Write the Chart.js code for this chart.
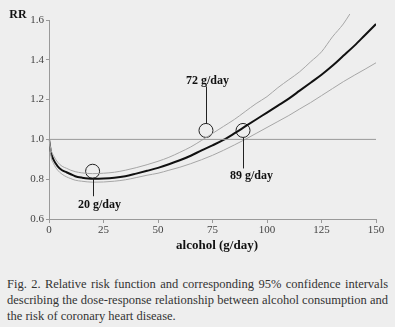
<!DOCTYPE html>
<html>
<head>
<meta charset="utf-8">
<script src="https://cdn.jsdelivr.net/npm/chart.js@4.4.1/dist/chart.umd.min.js"></script>
<style>
    body { margin: 0; background: #eeeeee; width: 395px; height: 327px; overflow: hidden;
           font-family: "Liberation Serif", "Times New Roman", serif; }
    #wrap { position: absolute; left: 0; top: 0; width: 395px; height: 260px; }
    #caption { position: absolute; left: 7px; top: 276px; width: 381px; font-size: 12.5px;
               line-height: 16px; color: #333; }
    #caption div { white-space: nowrap; text-align: justify; text-align-last: justify; }
    #caption div.last { text-align-last: left; }
</style>
</head>
<body>
<div id="wrap"><canvas id="chart" width="395" height="260"></canvas></div>
<div id="caption">
    <div>Fig. 2. Relative risk function and corresponding 95% confidence intervals</div>
    <div>describing the dose-response relationship between alcohol consumption and</div>
    <div class="last">the risk of coronary heart disease.</div>
</div>
<script>
// alcohol dose (g/day)
const doses = [0, 1, 2, 4, 6, 8, 10, 12, 15, 20, 25, 30, 35, 40, 45, 50, 55, 60, 65, 70,
               75, 80, 85, 90, 95, 100, 105, 110, 115, 120, 125, 130, 135, 140, 145, 150];

// relative risk
const rr = [1.00, 0.93, 0.90, 0.865, 0.845, 0.835, 0.825, 0.815, 0.808, 0.802, 0.803, 0.807, 0.815, 0.828, 0.842, 0.857, 0.875, 0.895, 0.918, 0.945,
            0.97, 0.997, 1.03, 1.065, 1.10, 1.135, 1.17, 1.205, 1.245, 1.285, 1.325, 1.37, 1.42, 1.47, 1.525, 1.58];

// 95% confidence limits
const upperDoses = [0, 1, 2, 4, 6, 8, 10, 12, 15, 20, 25, 30, 35, 40, 45, 50, 55, 60, 65, 70,
                    75, 80, 85, 90, 95, 100, 105, 110, 115, 120, 125, 130, 135, 138];
const upper = [1.00, 0.945, 0.92, 0.885, 0.865, 0.855, 0.845, 0.838, 0.832, 0.828, 0.83, 0.835, 0.845, 0.858, 0.873, 0.89, 0.91, 0.935, 0.962, 0.995,
               1.03, 1.065, 1.10, 1.14, 1.18, 1.215, 1.26, 1.30, 1.34, 1.39, 1.44, 1.515, 1.58, 1.63];
const lower = [1.00, 0.91, 0.88, 0.845, 0.825, 0.812, 0.803, 0.795, 0.79, 0.785, 0.786, 0.79, 0.797, 0.808, 0.82, 0.83, 0.845, 0.86, 0.878, 0.898,
               0.92, 0.945, 0.972, 1.00, 1.03, 1.06, 1.09, 1.12, 1.153, 1.185, 1.22, 1.255, 1.29, 1.322, 1.353, 1.385];

// marked doses: lowest risk, end of protection, start of harm
const markDoses = [20, 72, 89];
const markRR = [0.84, 1.045, 1.045];
const markLabels = ['20 g/day', '72 g/day', '89 g/day'];

const refRR = 1.0;
const xTicks = [0, 25, 50, 75, 100, 125, 150];
const yTicks = [0.6, 0.8, 1.0, 1.2, 1.4, 1.6];

const serif = '"Liberation Serif", "Times New Roman", serif';

const pts = (xs, ys) => xs.map((x, i) => ({ x: x, y: ys[i] }));

// leader line and label placement for each marked dose
const callouts = [
    { dir: 1, lead: 18, dx: 6, dy: 34 },
    { dir: -1, lead: 37, dx: 1, dy: -50 },
    { dir: 1, lead: 31, dx: 8, dy: 45 }
];
const markRadius = 7;

const annotations = {
    id: 'annotations',
    afterDatasetsDraw(chart) {
        const ctx = chart.ctx;
        const xs = chart.scales.x, ys = chart.scales.y;
        ctx.save();
        ctx.strokeStyle = '#222';
        ctx.lineWidth = 1;
        ctx.fillStyle = '#111';
        ctx.font = 'bold 12px ' + serif;
        ctx.textAlign = 'center';
        ctx.textBaseline = 'middle';
        markDoses.forEach((d, i) => {
            const c = callouts[i];
            const px = Math.round(xs.getPixelForValue(d)) + 0.5;
            const py = ys.getPixelForValue(markRR[i]);
            const y0 = py + c.dir * markRadius;
            ctx.beginPath();
            ctx.moveTo(px, y0);
            ctx.lineTo(px, y0 + c.dir * c.lead);
            ctx.stroke();
            ctx.fillText(markLabels[i], px + c.dx, py + c.dy);
        });
        // axis labels
        ctx.font = 'bold 12px ' + serif;
        ctx.fillText('RR', 18, 15);
        ctx.font = 'bold 13px ' + serif;
        ctx.fillText('alcohol (g/day)', 217, 246);
        ctx.restore();
    }
};

new Chart(document.getElementById('chart'), {
    type: 'line',
    data: {
        datasets: [
            {
                data: pts([0, 150], [refRR, refRR]),
                borderColor: '#999',
                borderWidth: 1,
                pointRadius: 0
            },
            {
                data: pts(upperDoses, upper),
                borderColor: '#a6a6a6',
                borderWidth: 1,
                pointRadius: 0,
                cubicInterpolationMode: 'monotone',
                clip: false
            },
            {
                data: pts(doses, lower),
                borderColor: '#a6a6a6',
                borderWidth: 1,
                pointRadius: 0,
                cubicInterpolationMode: 'monotone'
            },
            {
                data: pts(doses, rr),
                borderColor: '#111',
                borderWidth: 2,
                pointRadius: 0,
                cubicInterpolationMode: 'monotone'
            },
            {
                data: pts(markDoses, markRR),
                showLine: false,
                pointRadius: markRadius,
                pointBorderWidth: 1,
                pointBorderColor: '#222',
                pointBackgroundColor: 'rgba(0,0,0,0)'
            }
        ]
    },
    options: {
        responsive: false,
        animation: false,
        layout: { padding: { left: 0, right: 19, top: 20, bottom: 0 } },
        plugins: { legend: { display: false }, tooltip: { enabled: false } },
        scales: {
            x: {
                type: 'linear',
                min: 0,
                max: 150,
                afterFit: s => { s.height = 41; },
                afterBuildTicks: s => { s.ticks = xTicks.map(v => ({ value: v })); },
                border: { color: '#999', width: 1 },
                grid: { drawOnChartArea: false, tickLength: 4, color: '#999' },
                ticks: { color: '#444', padding: 1, font: { family: serif, size: 11 } }
            },
            y: {
                min: 0.6,
                max: 1.6,
                afterFit: s => { s.width = 49; },
                afterBuildTicks: s => { s.ticks = yTicks.map(v => ({ value: v })); },
                border: { color: '#999', width: 1 },
                grid: { drawOnChartArea: false, tickLength: 3, color: '#999' },
                ticks: {
                    color: '#444',
                    padding: 2,
                    font: { family: serif, size: 11 },
                    callback: v => v.toFixed(1)
                }
            }
        }
    },
    plugins: [annotations]
});
</script>
</body>
</html>
